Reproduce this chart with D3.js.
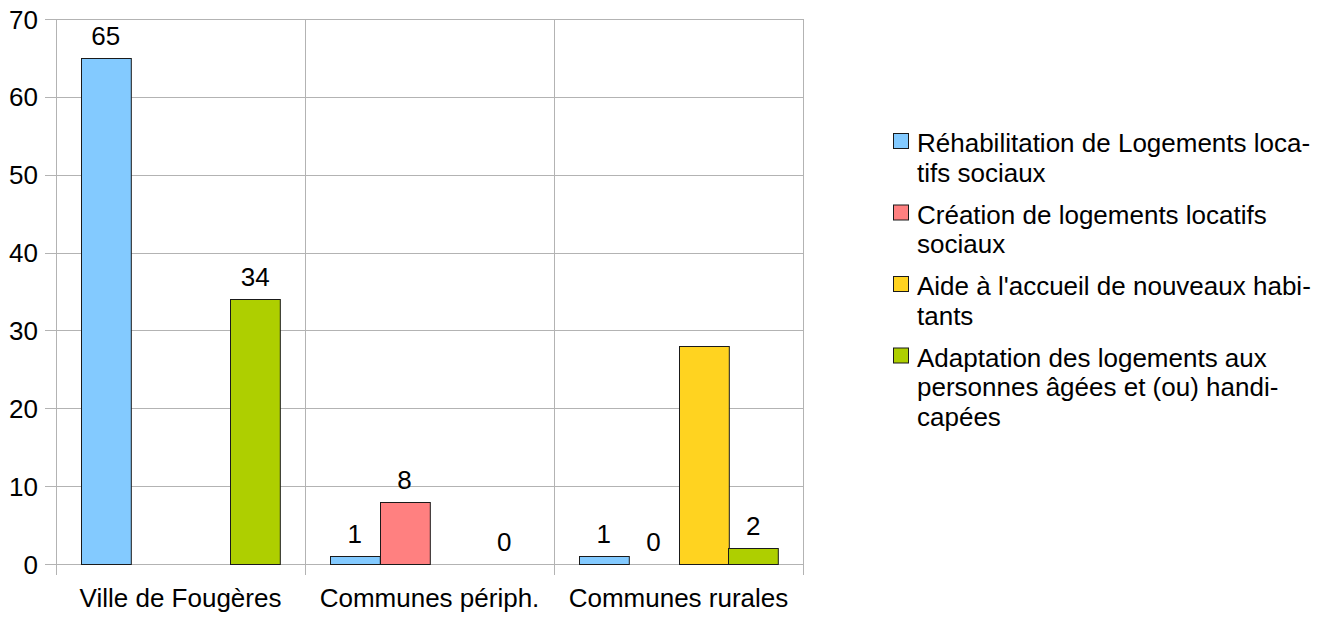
<!DOCTYPE html>
<html><head><meta charset="utf-8">
<script src="https://cdn.jsdelivr.net/npm/d3@7"></script>
<style>
html,body{margin:0;padding:0;background:#fff;}
text{font-family:"Liberation Sans",Arial,sans-serif;fill:#000;}
</style></head>
<body><svg id="c" width="1326" height="619"></svg>
<script>
const categories = ["Ville de Fougères", "Communes périph.", "Communes rurales"];
const seriesNames = [
  "Réhabilitation de Logements locatifs sociaux",
  "Création de logements locatifs sociaux",
  "Aide à l'accueil de nouveaux habitants",
  "Adaptation des logements aux personnes âgées et (ou) handicapées"
];
const legendLines = [
  ["Réhabilitation de Logements loca-", "tifs sociaux"],
  ["Création de logements locatifs", "sociaux"],
  ["Aide à l'accueil de nouveaux habi-", "tants"],
  ["Adaptation des logements aux", "personnes âgées et (ou) handi-", "capées"]
];
const rehabilitation = [65, 1, 1];
const creation = [null, 8, 0];
const accueil = [null, null, 28];
const adaptation = [34, 0, 2];
const showValueLabels = [true, true, false, true];
const colors = ["#83caff", "#ff8080", "#ffd320", "#aecf00"];
const yTicks = [0, 10, 20, 30, 40, 50, 60, 70];

(function(){
const seriesValues = [rehabilitation, creation, accueil, adaptation];
const svg = d3.select("#c");
const FS = 26;
const pL = 56, pR = 803, pT = 19, pB = 564;

const x = d3.scaleBand().domain(categories).range([pL, pR]).padding(0);
const xi = d3.scaleBand().domain(d3.range(4)).range([0, x.bandwidth()]).paddingInner(0).paddingOuter(0.5);
const y = d3.scaleLinear().domain([0, 70]).range([pB, pT]);

svg.append("g").selectAll("line").data(yTicks).join("line")
  .attr("x1", pL - 11).attr("x2", pR)
  .attr("y1", d => Math.round(y(d)) + 0.5).attr("y2", d => Math.round(y(d)) + 0.5)
  .attr("stroke", "#b3b3b3").attr("stroke-width", 1);
const bounds = categories.map(c => x(c)).concat([pR]);
svg.append("g").selectAll("line").data(bounds).join("line")
  .attr("x1", d => Math.round(d) + 0.5).attr("x2", d => Math.round(d) + 0.5)
  .attr("y1", pT).attr("y2", pB + 11)
  .attr("stroke", "#b3b3b3").attr("stroke-width", 1);

svg.append("g").selectAll("text").data(yTicks).join("text")
  .attr("x", 38).attr("y", d => y(d) + 9.5)
  .attr("text-anchor", "end").attr("font-size", FS).text(d => d);

svg.append("g").selectAll("text").data(categories).join("text")
  .attr("x", d => x(d) + x.bandwidth() / 2).attr("y", 607)
  .attr("text-anchor", "middle").attr("font-size", FS).text(d => d);

const items = [];
categories.forEach((c, ci) => seriesValues.forEach((s, si) => {
  if (s[ci] !== null) items.push({c, si, v: s[ci]});
}));
svg.append("g").selectAll("rect").data(items.filter(d => d.v > 0)).join("rect")
  .attr("x", d => Math.round(x(d.c) + xi(d.si)) + 0.5)
  .attr("y", d => Math.round(y(d.v)) + 0.5)
  .attr("width", xi.bandwidth())
  .attr("height", d => Math.round(y(0)) - Math.round(y(d.v)))
  .attr("fill", d => colors[d.si]).attr("stroke", "#1a1a1a").attr("stroke-width", 1);

svg.append("g").selectAll("text").data(items.filter(d => showValueLabels[d.si])).join("text")
  .attr("x", d => x(d.c) + xi(d.si) + xi.bandwidth() / 2)
  .attr("y", d => y(d.v) - 13)
  .attr("text-anchor", "middle").attr("font-size", FS).text(d => d.v);

let by = 152;
const lg = svg.append("g");
legendLines.forEach((lines, i) => {
  lg.append("rect").attr("x", 893.5).attr("y", by - 19 + 0.5).attr("width", 15).attr("height", 15)
    .attr("fill", colors[i]).attr("stroke", "#1a1a1a").attr("stroke-width", 1);
  lines.forEach((t, k) => {
    lg.append("text").attr("x", 917).attr("y", by + k * 29.5).attr("font-size", FS).text(t);
  });
  by += lines.length * 29.5 + 12.5;
});
})();
</script></body></html>
